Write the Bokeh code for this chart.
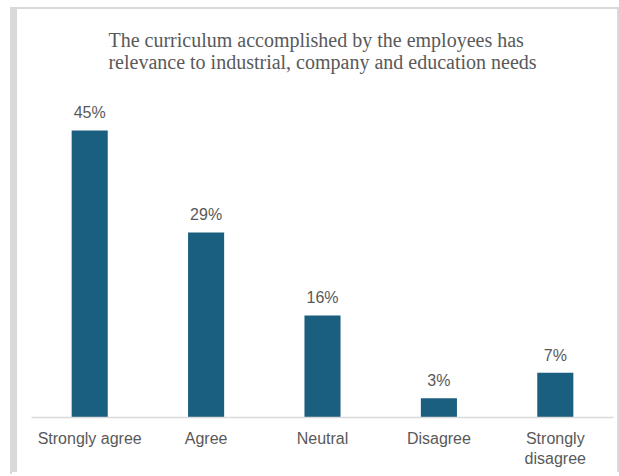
from bokeh.plotting import figure
from bokeh.models import ColumnDataSource, LabelSet, Title, Range1d, FactorRange, Div
from bokeh.layouts import row
from bokeh.core.properties import value
from bokeh.embed import file_html
from bokeh.resources import INLINE

categories = ["Strongly agree", "Agree", "Neutral", "Disagree", "Strongly\ndisagree"]
values = [45, 29, 16, 3, 7]
title_lines = ["The curriculum accomplished by the employees has",
               "relevance to industrial, company and education needs"]

labels = [f"{v}%" for v in values]
src = ColumnDataSource(dict(cat=categories, val=values, lab=labels))

TEXT = "#595959"
BAR = "#1a5e80"
BORDER = "#d9d9d9"

p = figure(x_range=FactorRange(*categories, range_padding=0),
           y_range=Range1d(0, 51.25),
           width=600, height=465, output_backend="svg", toolbar_location=None,
           min_border_left=14, min_border_right=4, min_border_top=81,
           min_border_bottom=57)
p.styles = {"box-shadow": f"0 -2px 0 0 {BORDER}, -5px -2px 0 0 {BORDER}, 2px -2px 0 0 {BORDER}",
            "margin-top": "9px"}

p.add_layout(Title(text="\n".join(title_lines), align="center",
                   text_font="Liberation Serif", text_font_size="20px",
                   text_font_style="normal", text_line_height=1.0,
                   text_color=TEXT, standoff=35), "above")

p.vbar(x="cat", top="val", width=0.31, source=src, color=BAR, line_color=None)

p.add_layout(LabelSet(x="cat", y="val", text="lab", source=src,
                      text_align="center", text_baseline="alphabetic",
                      y_offset=12, text_font=value("Liberation Sans"),
                      text_font_size=value("16px"), text_color=TEXT))

p.yaxis.visible = False
p.xgrid.visible = False
p.ygrid.visible = False
p.outline_line_color = None
p.xaxis.axis_line_color = BORDER
p.xaxis.axis_line_width = 1.5
p.xaxis.major_tick_line_color = None
p.xaxis.minor_tick_line_color = None
p.xaxis.major_label_standoff = 6
p.xaxis.major_label_text_font = "Liberation Sans"
p.xaxis.major_label_text_font_size = "16px"
p.xaxis.major_label_text_color = TEXT

edge = Div(text="", width=2, height=467,
           styles={"background-color": BORDER, "margin-left": "10px",
                   "margin-top": "7px"})

layout = row(edge, p, spacing=0)

open("out.html", "w").write(file_html(layout, INLINE))
